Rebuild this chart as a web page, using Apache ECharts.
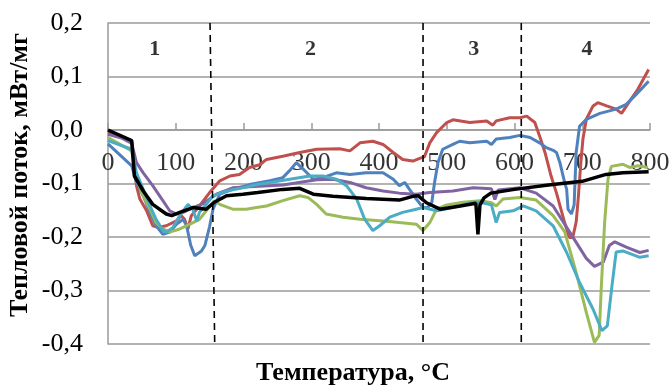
<!DOCTYPE html>
<html>
<head>
<meta charset="utf-8">
<script src="https://cdn.jsdelivr.net/npm/echarts@6/dist/echarts.min.js"></script>
<style>html,body{margin:0;padding:0;background:#fff}#c{width:672px;height:388px}</style>
</head>
<body>
<div id="c"></div>
<script>
// ---- data (temperature °C, heat flow mW/mg) ----
const redT = [0,20,35,39,42,47,57,66,74,86,101,108,113,118,123,135,150,165,180,194,209,224,234,258,283,308,342,357,372,391,406,421,435,450,460,467,475,485,500,509,534,559,568,573,593,608,618,630,637,645,654,662,674,681,686,691,694,698,701,706,716,723,736,750,758,770,782,798];
const redV = [-0.005,-0.012,-0.022,-0.07,-0.104,-0.129,-0.151,-0.179,-0.182,-0.179,-0.170,-0.160,-0.167,-0.185,-0.160,-0.142,-0.117,-0.095,-0.086,-0.083,-0.070,-0.065,-0.055,-0.049,-0.042,-0.036,-0.035,-0.039,-0.024,-0.021,-0.027,-0.042,-0.055,-0.058,-0.053,-0.050,-0.024,-0.005,0.014,0.019,0.014,0.017,0.009,0.017,0.023,0.023,0.026,0.014,-0.011,-0.042,-0.086,-0.118,-0.173,-0.201,-0.201,-0.172,-0.129,-0.06,-0.017,0.020,0.045,0.051,0.045,0.039,0.031,0.054,0.076,0.113];

const blueT = [0,35,42,52,62,71,81,91,101,111,116,122,128,138,143,150,155,165,184,209,239,258,268,278,288,303,317,337,357,381,406,421,430,438,445,455,465,472,478,482,487,494,509,519,534,559,566,573,593,608,623,637,647,657,662,667,674,677,679,684,688,691,696,706,726,750,765,780,798];
const blueV = [-0.026,-0.067,-0.098,-0.123,-0.154,-0.179,-0.195,-0.191,-0.176,-0.167,-0.179,-0.215,-0.235,-0.226,-0.216,-0.180,-0.148,-0.120,-0.111,-0.102,-0.095,-0.089,-0.076,-0.061,-0.073,-0.092,-0.089,-0.080,-0.083,-0.080,-0.080,-0.092,-0.104,-0.098,-0.111,-0.129,-0.145,-0.145,-0.135,-0.098,-0.061,-0.036,-0.027,-0.021,-0.024,-0.021,-0.027,-0.017,-0.014,-0.010,-0.014,-0.024,-0.033,-0.038,-0.042,-0.061,-0.098,-0.111,-0.148,-0.157,-0.140,-0.042,0.007,0.020,0.031,0.039,0.048,0.067,0.091];

const purpleT = [0,20,35,42,52,66,81,91,101,111,125,140,160,184,209,258,308,332,357,381,406,430,455,475,509,539,566,571,576,583,608,632,657,681,706,718,731,740,748,765,785,798];
const purpleV = [-0.008,-0.015,-0.025,-0.061,-0.080,-0.104,-0.132,-0.151,-0.157,-0.154,-0.145,-0.138,-0.120,-0.108,-0.106,-0.103,-0.093,-0.092,-0.098,-0.108,-0.114,-0.118,-0.120,-0.117,-0.114,-0.108,-0.110,-0.130,-0.112,-0.111,-0.108,-0.118,-0.142,-0.190,-0.240,-0.255,-0.247,-0.216,-0.209,-0.219,-0.229,-0.225];

const greenT = [0,35,42,52,62,71,81,91,106,121,135,145,157,165,184,204,219,234,258,283,295,308,322,347,372,406,430,455,465,475,485,500,524,549,566,573,583,608,632,657,674,691,706,718,725,728,733,738,743,760,770,782,797];
const greenV = [-0.014,-0.039,-0.092,-0.123,-0.148,-0.173,-0.185,-0.191,-0.185,-0.176,-0.167,-0.151,-0.132,-0.139,-0.148,-0.148,-0.145,-0.142,-0.132,-0.123,-0.126,-0.139,-0.157,-0.163,-0.167,-0.170,-0.173,-0.176,-0.188,-0.173,-0.148,-0.140,-0.135,-0.132,-0.136,-0.142,-0.129,-0.126,-0.131,-0.160,-0.190,-0.266,-0.341,-0.397,-0.384,-0.297,-0.173,-0.092,-0.068,-0.064,-0.070,-0.067,-0.070];

const cyanT = [0,35,42,52,62,71,81,86,96,106,118,125,131,135,143,155,175,199,224,239,268,298,317,337,352,367,379,391,401,416,435,455,465,485,509,539,549,566,573,578,598,613,632,657,677,696,716,729,737,744,750,760,785,798];
const cyanV = [-0.020,-0.036,-0.080,-0.111,-0.142,-0.167,-0.188,-0.191,-0.182,-0.160,-0.139,-0.148,-0.170,-0.154,-0.142,-0.123,-0.114,-0.108,-0.101,-0.098,-0.092,-0.086,-0.086,-0.092,-0.104,-0.129,-0.167,-0.188,-0.179,-0.163,-0.154,-0.148,-0.145,-0.151,-0.145,-0.135,-0.135,-0.140,-0.173,-0.154,-0.151,-0.142,-0.151,-0.179,-0.229,-0.285,-0.335,-0.375,-0.366,-0.290,-0.228,-0.226,-0.238,-0.235];

const blackT = [0,35,39,52,66,86,94,106,125,145,157,175,199,221,258,283,303,332,381,430,450,458,470,490,520,543,546,549,555,565,600,650,700,735,760,798];
const blackV = [0.0,-0.020,-0.086,-0.114,-0.139,-0.157,-0.160,-0.154,-0.145,-0.148,-0.135,-0.123,-0.120,-0.117,-0.111,-0.109,-0.120,-0.124,-0.128,-0.131,-0.124,-0.123,-0.136,-0.148,-0.142,-0.137,-0.195,-0.140,-0.127,-0.118,-0.111,-0.103,-0.096,-0.083,-0.080,-0.078];

// stage boundaries (dashed lines): [top T, bottom T]
const stageLines = [[150.6,157.5],[465,465],[610,610]];
const stageNames = ['1','2','3','4'];
const stageNameT = [69,299,540,707];
const stageNameV = 0.15;

const xTicks = {min:0, max:800, interval:100};
const xTickLabels = [0,100,200,300,400,500,600,700,800];
const yTicks = {min:-0.4, max:0.2, interval:0.1};

const xTitle = 'Температура, °С';
const yTitle = 'Тепловой поток, мВт/мг';

// ---- build ----
const zip = (t, v) => t.map((x, i) => [x, v[i]]);
const curve = (name, t, v, color, w) => ({
  name, type: 'line', data: zip(t, v), showSymbol: false, symbol: 'none',
  lineStyle: {color, width: w}, itemStyle: {color}, z: 3
});

const serif = 'Liberation Serif';

const series = [
  curve('red', redT, redV, '#C0504D', 3),
  curve('blue', blueT, blueV, '#4F81BD', 3),
  curve('purple', purpleT, purpleV, '#8064A2', 3),
  curve('green', greenT, greenV, '#9BBB59', 3),
  curve('cyan', cyanT, cyanV, '#4BACC6', 3),
  curve('black', blackT, blackV, '#000000', 3.5)
];
stageLines.forEach((s, i) => series.push({
  name: 'stage' + i, type: 'line', data: [[s[0], yTicks.max], [s[1], yTicks.min]],
  symbol: 'none', lineStyle: {color: '#000', width: 1.6, type: [7, 5]}, z: 4, silent: true
}));
series.push({
  name: 'stages', type: 'scatter', symbolSize: 0,
  data: stageNames.map((n, i) => ({name: n, value: [stageNameT[i], stageNameV]})),
  label: {show: true, position: 'inside', formatter: p => p.name,
    fontFamily: serif, fontWeight: 'bold', fontSize: 22, color: '#000'},
  z: 5, silent: true
});
// temperature tick labels on the zero line (placed by the x scale)
series.push({
  name: 'xTickLabels', type: 'scatter', symbolSize: 0, clip: false,
  data: xTickLabels.map(t => [t, 0]),
  label: {show: true, position: 'bottom', distance: 20, formatter: p => String(p.value[0]),
    fontFamily: serif, fontSize: 26, color: '#000'},
  labelLayout: {hideOverlap: false},
  z: 2, silent: true
});

const G = {left: 108, right: 22, top: 23, bottom: 44};
const W = 672, H = 388;
const plotH = H - G.top - G.bottom;
const zeroOffset = plotH * (yTicks.max / (yTicks.max - yTicks.min));

const chart = echarts.init(document.getElementById('c'), null, {renderer: 'canvas'});
chart.setOption({
  animation: false,
  backgroundColor: '#fff',
  grid: [
    {left: G.left, right: G.right, top: G.top, bottom: G.bottom},
    {left: G.left, right: G.right, top: G.top, height: zeroOffset}
  ],
  xAxis: [
    {gridIndex: 0, type: 'value', min: xTicks.min, max: xTicks.max, interval: xTicks.interval,
      axisLine: {show: false}, axisTick: {show: false}, axisLabel: {show: false}, splitLine: {show: false}},
    {gridIndex: 1, type: 'value', position: 'bottom', min: xTicks.min, max: xTicks.max, interval: xTicks.interval,
      axisLine: {show: true, onZero: false, lineStyle: {color: '#9a9a9a', width: 1.5}},
      axisTick: {show: true, inside: true, length: 7, lineStyle: {color: '#9a9a9a', width: 1.5}},
      axisLabel: {show: false},
      splitLine: {show: false}}
  ],
  yAxis: [
    {gridIndex: 0, type: 'value', min: yTicks.min, max: yTicks.max, interval: yTicks.interval,
      axisLine: {show: true, onZero: false, lineStyle: {color: '#9a9a9a', width: 1.5}},
      axisTick: {show: false},
      axisLabel: {margin: 25, fontFamily: serif, fontSize: 26, color: '#000',
        formatter: v => v.toFixed(1).replace('.', ',')},
      splitLine: {show: true, lineStyle: {color: '#9a9a9a', width: 1.5}}},
    {gridIndex: 1, type: 'value', min: 0, max: yTicks.max,
      axisLine: {show: false}, axisTick: {show: false}, axisLabel: {show: false}, splitLine: {show: false}}
  ],
  graphic: [
    {type: 'text', x: 20, y: 175, rotation: Math.PI / 2,
      style: {text: yTitle, font: 'bold 26px "Liberation Serif"', fill: '#000', textAlign: 'center', textVerticalAlign: 'middle'}},
    {type: 'text', x: 353, y: 373,
      style: {text: xTitle, font: 'bold 26px "Liberation Serif"', fill: '#000', textAlign: 'center', textVerticalAlign: 'middle'}}
  ],
  series
});
</script>
</body>
</html>
